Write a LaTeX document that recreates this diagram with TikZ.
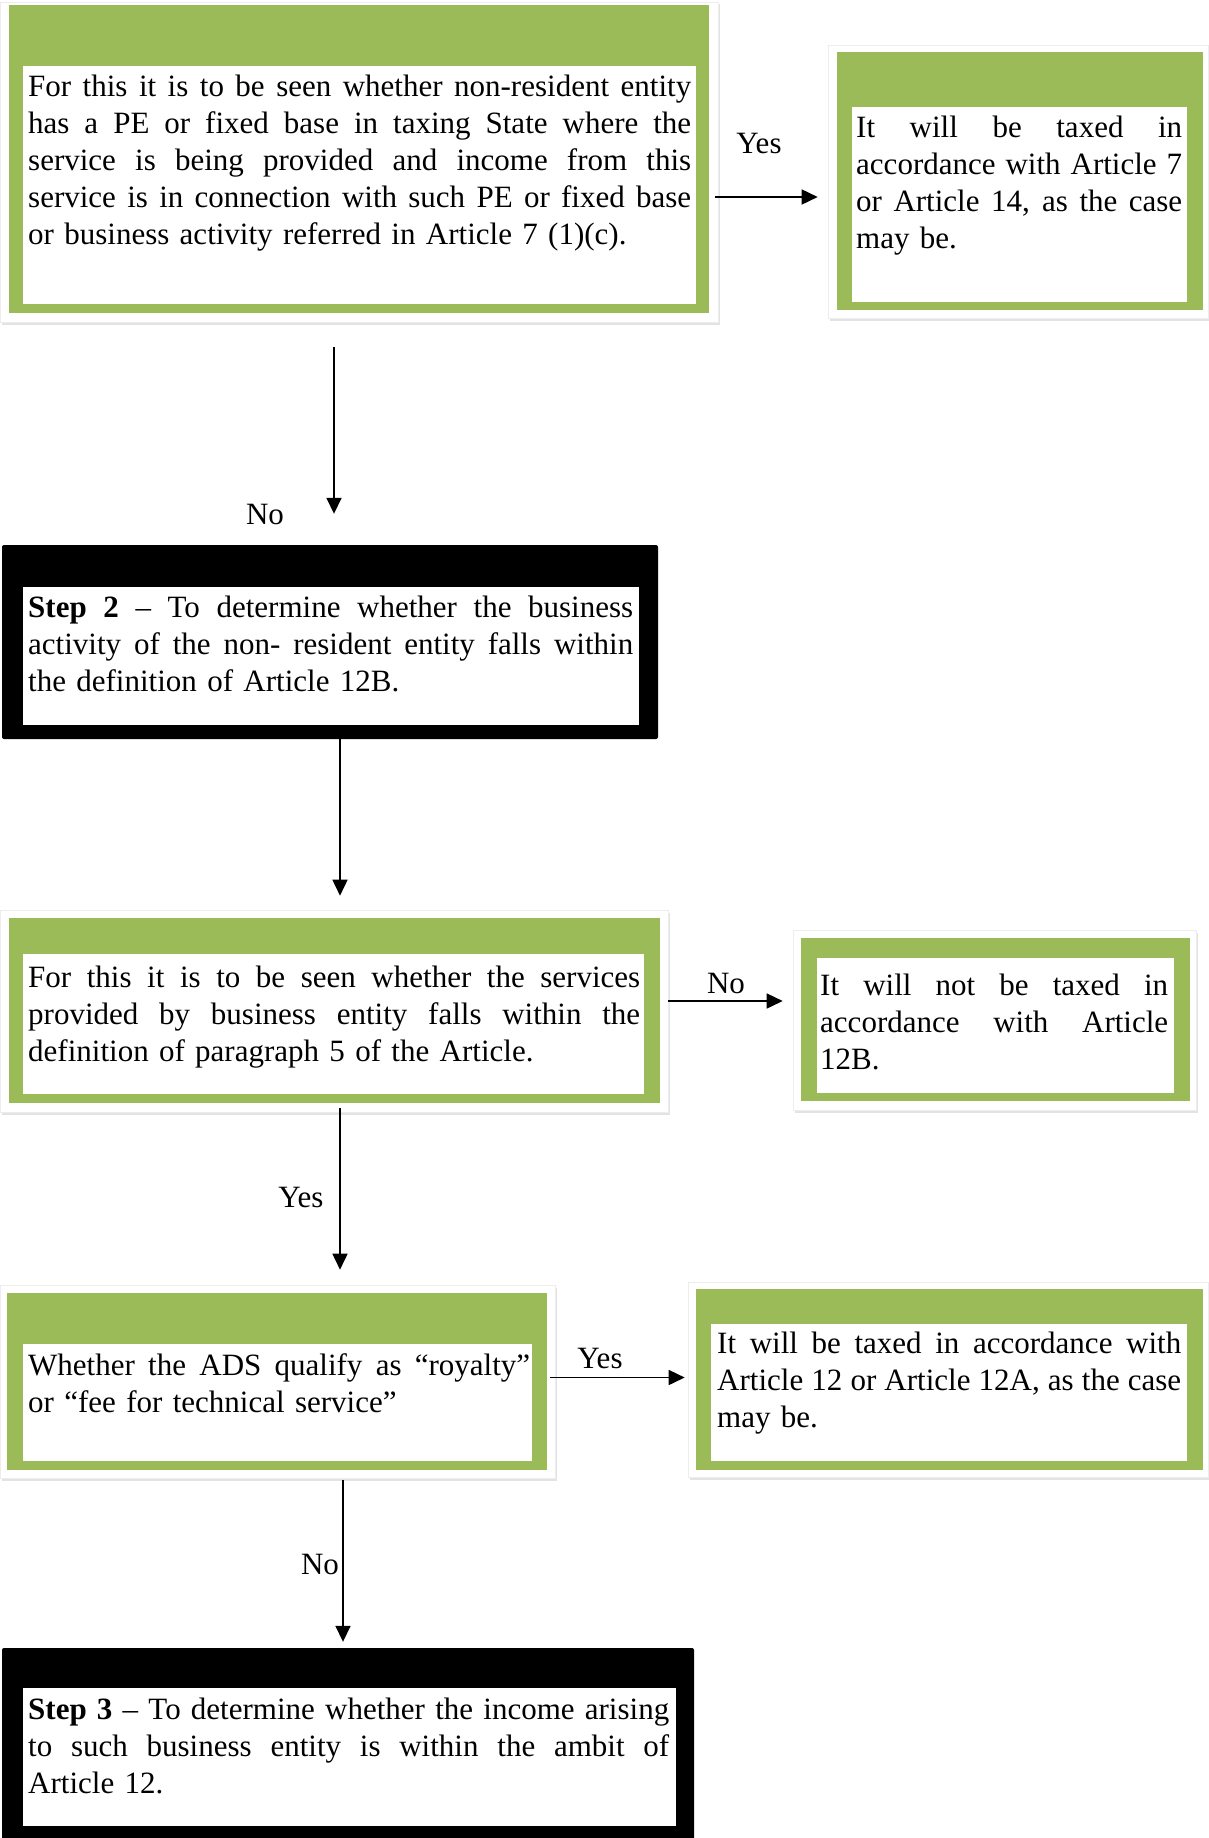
\documentclass[tikz,border=0pt]{standalone}
\usepackage{fontspec}
\setmainfont{Liberation Serif}
\usetikzlibrary{arrows.meta,shadows,fit,calc}
\definecolor{boxgreen}{RGB}{155,187,89}
\newcommand\tw{100pt}
\newcommand\jl[1]{\leavevmode\hbox to \tw{\spaceskip=0.25em plus 1fil minus 0.08em\relax #1}}
\newcommand\fl{\rule{0pt}{25pt}}
\newcommand\bodyfont{\fontsize{31}{37}\selectfont}
\begin{document}
\begin{tikzpicture}[x=1pt,y=-1pt,
  frame/.style={fill=white, draw=black!7, line width=0.6pt, inner sep=0pt,
    drop shadow={shadow xshift=1.5pt, shadow yshift=-2.5pt, opacity=0.22}},
  greenfill/.style={fill=boxgreen, inner sep=0pt},
  blackfill/.style={fill=black, rounded corners=2pt, inner sep=0pt},
  innerw/.style={fill=white, inner sep=0pt},
  txt/.style={anchor=north west, inner sep=0pt, align=left, text width=#1, font=\bodyfont\def\tw{#1}},
  lbl/.style={inner sep=0pt, font=\bodyfont},
  arr/.style={line width=1.6pt, -{Triangle[length=16pt,width=15pt]}}]
\useasboundingbox (0,0) rectangle (1208,1838);
\fill[white] (0,0) rectangle (1208,1838);

% Box 1
\node[frame, fit={(0,2) (718,322)}] (f1) {};
\node[greenfill, fit={(9,5) (709,313)}] (g1) {};
\node[innerw, fit={(23,66) (696,304)}] (w1) {};
\node[txt=663pt] (t1) at (28,71) {%
\jl{\fl For this it is to be seen whether non-resident entity}\\
\jl{has a PE or fixed base in taxing State where the}\\
\jl{service is being provided and income from this}\\
\jl{service is in connection with such PE or fixed base}\\
or business activity referred in Article 7 (1)(c).};

% Box 2
\node[frame, fit={(828,45) (1208,318)}] (f2) {};
\node[greenfill, fit={(837,52) (1203,310)}] (g2) {};
\node[innerw, fit={(852,107) (1187,302)}] (w2) {};
\node[txt=326pt] (t2) at (856,112) {%
\jl{\fl It will be taxed in}\\
\jl{accordance with Article 7}\\
\jl{or Article 14, as the case}\\
may be.};

% Step 2
\node[blackfill, fit={(2,545) (658,739)}] (s2) {};
\node[innerw, fit={(23,587) (639,725)}] (w3) {};
\node[txt=605pt] (t3) at (28,592) {%
\jl{\fl\textbf{Step 2} – To determine whether the business}\\
\jl{activity of the non- resident entity falls within}\\
the definition of Article 12B.};

% Box 4
\node[frame, fit={(0,910) (668,1112)}] (f4) {};
\node[greenfill, fit={(9,918) (660,1103)}] (g4) {};
\node[innerw, fit={(23,954) (644,1094)}] (w4) {};
\node[txt=612pt] (t4) at (28,962) {%
\jl{\fl For this it is to be seen whether the services}\\
\jl{provided by business entity falls within the}\\
definition of paragraph 5 of the Article.};

% Box 5
\node[frame, fit={(793,930) (1196,1110)}] (f5) {};
\node[greenfill, fit={(801,938) (1190,1101)}] (g5) {};
\node[innerw, fit={(817,958) (1174,1093)}] (w5) {};
\node[txt=348pt] (t5) at (820,970) {%
\jl{\fl It will not be taxed in}\\
\jl{accordance with Article}\\
12B.};

% Box 6
\node[frame, fit={(0,1285) (555,1478)}] (f6) {};
\node[greenfill, fit={(7,1293) (547,1470)}] (g6) {};
\node[innerw, fit={(23,1344) (532,1461)}] (w6) {};
\node[txt=502pt] (t6) at (28,1350) {%
\jl{\fl Whether the ADS qualify as “royalty”}\\
or “fee for technical service”};

% Box 7
\node[frame, fit={(688,1282) (1208,1477)}] (f7) {};
\node[greenfill, fit={(696,1289) (1203,1470)}] (g7) {};
\node[innerw, fit={(711,1324) (1187,1461)}] (w7) {};
\node[txt=464pt] (t7) at (717,1328) {%
\jl{\fl It will be taxed in accordance with}\\
\jl{Article 12 or Article 12A, as the case}\\
may be.};

% Step 3
\node[blackfill, fit={(2,1648) (694,1845)}] (s3) {};
\node[innerw, fit={(23,1688) (676,1826)}] (w8) {};
\node[txt=641pt] (t8) at (28,1694) {%
\jl{\fl\textbf{Step 3} – To determine whether the income arising}\\
\jl{to such business entity is within the ambit of}\\
Article 12.};

% Connectors
\draw[arr, shorten <=-3pt, shorten >=10pt] ([yshift=-35pt]f1.east) -- ([yshift=-35pt]f1.east -| f2.west);
\node[lbl] (l1) at (759,144) {Yes};

\draw[arr, shorten <=25pt, shorten >=31pt] ([xshift=-25pt]f1.south) -- ([xshift=-25pt]f1.south |- s2.north);
\node[lbl] (l2) at (265,514) {No};

\draw[arr, shorten >=14pt] ([xshift=10pt]s2.south) -- ([xshift=10pt]s2.south |- f4.north);

\draw[arr, shorten >=10pt] ([yshift=10pt]f4.east) -- ([yshift=10pt]f4.east -| f5.west);
\node[lbl] (l3) at (726,983) {No};

\draw[arr, shorten <=-4pt, shorten >=15pt] ([xshift=6pt]f4.south) -- ([xshift=6pt]f4.south |- f6.north);
\node[lbl] (l4) at (301,1197) {Yes};

\draw[arr, shorten <=-5pt, shorten >=3pt] ([yshift=4pt]f6.east) -- ([yshift=4pt]f6.east -| f7.west);
\node[lbl] (l5) at (600,1358) {Yes};

\draw[arr, shorten <=2pt, shorten >=6pt] ([xshift=65.5pt]f6.south) -- ([xshift=65.5pt]f6.south |- s3.north);
\node[lbl] (l6) at (320,1564) {No};
\end{tikzpicture}
\end{document}
